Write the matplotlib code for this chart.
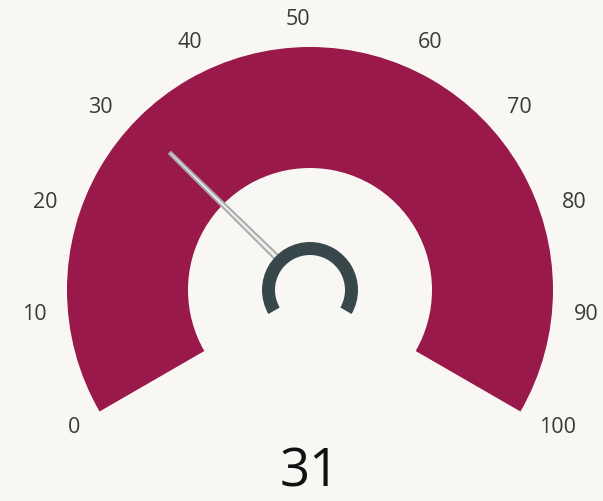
import numpy as np
import matplotlib.pyplot as plt
from matplotlib.patches import Wedge, Polygon

# gauge data
value = 31
gauge_min = 0
gauge_max = 100
tick_values = [0, 10, 20, 30, 40, 50, 60, 70, 80, 90, 100]

BG = "#f8f7f3"
BAND = "#99194b"
HUB = "#37474a"

W, H = 603, 501
cx, cy = 310, H - 290
r_out, r_in = 243, 122
start_ang, end_ang = 210, -30


def to_angle(v):
    frac = (v - gauge_min) / (gauge_max - gauge_min)
    return start_ang + (end_ang - start_ang) * frac


fig = plt.figure(figsize=(W / 100, H / 100), dpi=100, facecolor=BG)
ax = fig.add_axes([0, 0, 1, 1])
ax.set_facecolor(BG)
ax.set_xlim(0, W)
ax.set_ylim(0, H)
ax.set_aspect("equal")
ax.set_axis_off()

# main band
ax.add_patch(Wedge((cx, cy), r_out, end_ang, start_ang, width=r_out - r_in,
                   facecolor=BAND, edgecolor="none"))

# tick labels: anchored just outside the band, aligned away from the centre
for t in tick_values:
    a = np.radians(to_angle(t))
    x = cx + 265 * np.cos(a)
    y = cy + 265 * np.sin(a)
    if np.sin(a) < 0:
        y += 21 * np.sin(a)
    ha = "right" if np.cos(a) < 1e-9 else "left"
    ax.text(x, y, str(t), ha=ha, va="baseline", fontsize=15.5,
            color="#3a3a3a", family="Open Sans")

# needle
a = np.radians(to_angle(value))
d = np.array([np.cos(a), np.sin(a)])
n = np.array([-d[1], d[0]])
base = np.array([cx, cy]) + d * 46
tip = np.array([cx, cy]) + d * 196
needle = Polygon([base + n * 2.6, tip + n * 1.3, tip - n * 1.3, base - n * 2.6],
                 closed=True, facecolor="#eeeeee", edgecolor="#aaaaaa",
                 lw=1.4, joinstyle="round")
ax.add_patch(needle)

# hub ring
ax.add_patch(Wedge((cx, cy), 48, end_ang, start_ang, width=13,
                   facecolor=HUB, edgecolor="none"))

# value label
ax.text(cx, H - 473, str(value), ha="center", va="center",
        fontsize=38, color="#111111", family="Open Sans")

fig.savefig("out.png", dpi=100, facecolor=BG)
